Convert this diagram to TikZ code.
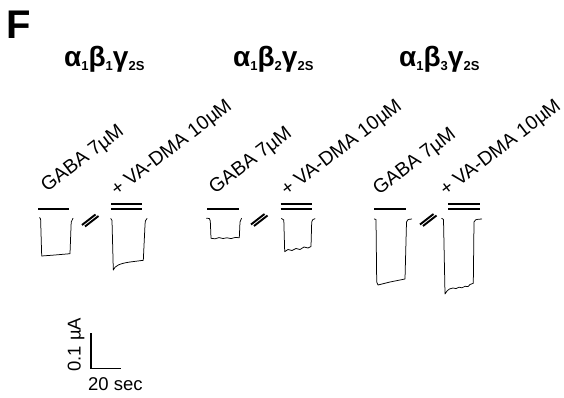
\documentclass[tikz,border=0pt]{standalone}
\usepackage{fontspec}
\setmainfont{Liberation Sans}
\begin{document}
\begin{tikzpicture}[x=1pt,y=-1pt,
  lbl/.style={font=\fontsize{18.5}{20}\selectfont, inner sep=0pt, anchor=base west},
  rlbl/.style={font=\fontsize{19.5}{21}\selectfont, inner sep=0pt, anchor=base west, rotate=37.5},
  ttl/.style={font=\fontsize{28}{30}\selectfont\bfseries, inner sep=0pt, anchor=base west},
  trace/.style={line width=0.75pt, line join=round, line cap=round},
  bar/.style={line width=2.3pt},
  brk/.style={line width=1.9pt},
  scalebar/.style={line width=1.6pt}]
\useasboundingbox (0,0) rectangle (564,398);
\newcommand\mysub[1]{\raisebox{-3.5pt}{\fontsize{13}{14}\selectfont #1}}
% panel letter
\node[font=\fontsize{40}{42}\selectfont\bfseries, inner sep=0pt, anchor=base west] (F) at (6,39) {F};
% titles
\node[ttl] (t1) at (64,67) {α\mysub{1}β\mysub{1}γ\mysub{2S}};
\node[ttl] (t2) at (233,67) {α\mysub{1}β\mysub{2}γ\mysub{2S}};
\node[ttl] (t3) at (399,67) {α\mysub{1}β\mysub{3}γ\mysub{2S}};
% rotated labels
\node[rlbl] (g1) at (47,193) {GABA 7µM};
\node[rlbl] (v1) at (117,197) {+ VA-DMA 10µM};
\node[rlbl] (g2) at (215,195) {GABA 7µM};
\node[rlbl] (v2) at (287,197) {+ VA-DMA 10µM};
\node[rlbl] (g3) at (379,196) {GABA 7µM};
\node[rlbl] (v3) at (446,197) {+ VA-DMA 10µM};
% application bars
\draw[bar] (38.3,208.7) -- (69.3,208.7);
\draw[bar] (111,204.3) -- (141.7,204.3) (111,208.8) -- (141.7,208.8);
\draw[bar] (207.3,208.7) -- (239.3,208.7);
\draw[bar] (280.7,204.3) -- (311.7,204.3) (280.7,208.8) -- (311.7,208.8);
\draw[bar] (374.3,208.7) -- (405.7,208.7);
\draw[bar] (448.3,204.3) -- (480,204.3) (448.3,208.8) -- (480,208.8);
% break marks
\foreach \sx/\sy in {82/225, 251/224.5, 420/224.5}{
  \draw[brk, shift={(\sx,\sy)}] (0,0) -- (13.5,-10.5) (3,1.5) -- (16.5,-9);
}
% traces group 1
\draw[trace] (39.6,217.5) -- (40.6,219) -- (41.7,256) -- (55,255) -- (70,253.7) -- (71.2,222) .. controls (71.5,219.5) .. (73,218.3);
\draw[trace] (110.8,218.5) -- (112,220.5) -- (113.3,270) .. controls (115,265.5) and (120,263.5) .. (130,262) -- (143.3,260.3) -- (145,225) .. controls (145.3,220.5) .. (147,218.5);
% traces group 2
\draw[trace] (206.5,218.2) -- (209.3,218.5) -- (210.3,221) -- (211,238.3) -- (215,238.8) -- (219,237.6) -- (223,238.5) -- (227,237.8) -- (231,238.6) -- (235,237.5) -- (239.3,237.7) -- (240,222) .. controls (240.3,219.5) .. (241.5,218.3);
\draw[trace] (281.5,218.5) -- (283.8,220) -- (284.7,251.7) -- (288,249.5) -- (292,250.5) -- (296,248.5) -- (300,249.5) -- (304,247) -- (308,248) -- (311,246.5) -- (311.7,222) .. controls (312.5,219.5) .. (315,218.6);
% traces group 3
\draw[trace] (374.3,219) -- (376,219.5) -- (376.7,282) -- (378,285) -- (390,282) -- (405,279) -- (406.5,222) .. controls (407.5,219.5) .. (411.7,219);
\draw[trace] (441.7,218.3) -- (443.5,219.5) -- (445,294) -- (447,291) .. controls (449,289) .. (453,288) -- (456,288.6) -- (459,287.2) -- (462,287.8) -- (465,286.3) -- (468,286.6) -- (470,284.5) -- (473.3,283.3) -- (474,222) .. controls (475,219.5) .. (481.7,219);
% scale bar
\coordinate (sbt) at (90.7,333.3);
\coordinate (sbc) at (90.7,368.3);
\coordinate (sbr) at (120.5,368.3);
\draw[scalebar, line join=miter] (sbt) -- (sbc) -- (sbr);
\node[lbl, rotate=90] (sy) at (80.5,372) {0.1 µA};
\node[lbl] (sx) at (88,390) {20 sec};
\end{tikzpicture}
\end{document}
